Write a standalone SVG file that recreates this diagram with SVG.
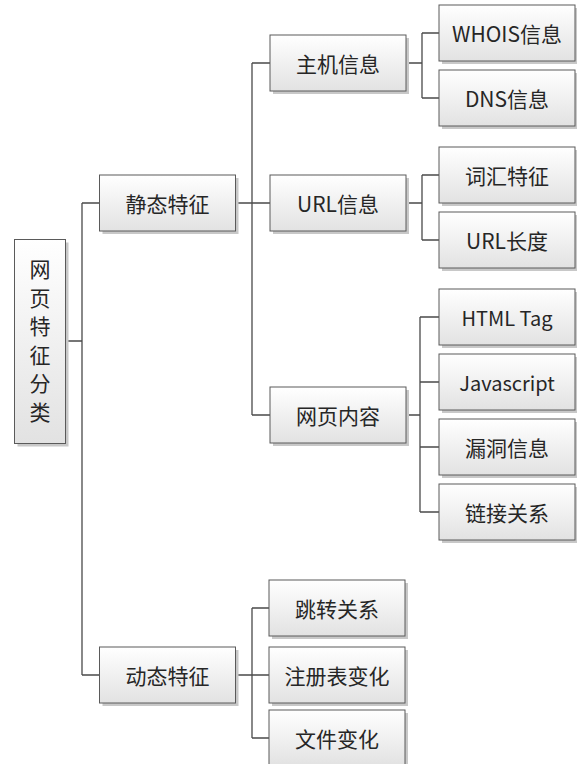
<svg xmlns="http://www.w3.org/2000/svg" width="577" height="764" viewBox="0 0 577 764">
<style>
.box{fill:url(#g);stroke:#5a5a5a;stroke-width:1}
.sh{fill:#c8c8c8}
.t{font-family:"Noto Sans CJK SC","Liberation Sans",sans-serif;font-size:21px;fill:#262626;text-anchor:middle;dominant-baseline:central}
.l{font-size:20px}
.c{fill:none;stroke:#4a4a4a;stroke-width:1.3}
</style>
<defs>
<linearGradient id="g" x1="0" y1="0" x2="0" y2="1">
<stop offset="0" stop-color="#ffffff"/>
<stop offset="1" stop-color="#e2e2e2"/>
</linearGradient>
</defs>
<rect width="577" height="764" fill="#fff"/>
<g id="connectors" class="c">
<path d="M65.5 341H82M82 203V675M82 203H99.5M82 675H99.5"/>
<path d="M235.5 203H252M252 63V415M252 63H270M252 203H270M252 415H270"/>
<path d="M406 63H422M422 33V98M422 33H439M422 98H439"/>
<path d="M406 203H422M422 175V240M422 175H439M422 240H439"/>
<path d="M406 415H420M420 317V512M420 317H439M420 382H439M420 447H439M420 512H439"/>
<path d="M235.5 675H252M252 608V738M252 608H269M252 675H269M252 738H269"/>
</g>
<g id="root">
<rect class="sh" x="17.5" y="242.5" width="51" height="204"/>
<rect class="box" x="14.5" y="239.5" width="51" height="204"/>
<text class="t" x="40" y="268">网</text>
<text class="t" x="40" y="296.5">页</text>
<text class="t" x="40" y="325">特</text>
<text class="t" x="40" y="353.5">征</text>
<text class="t" x="40" y="382">分</text>
<text class="t" x="40" y="410.5">类</text>
</g>
<g id="static">
<rect class="sh" x="102.5" y="178" width="136" height="56"/>
<rect class="box" x="99.5" y="175" width="136" height="56"/>
<text class="t" x="167.5" y="203">静态特征</text>
</g>
<g id="dynamic">
<rect class="sh" x="102.5" y="650" width="136" height="56"/>
<rect class="box" x="99.5" y="647" width="136" height="56"/>
<text class="t" x="167.5" y="675">动态特征</text>
</g>
<g id="host">
<rect class="sh" x="273" y="38" width="136" height="56"/>
<rect class="box" x="270" y="35" width="136" height="56"/>
<text class="t" x="338" y="63">主机信息</text>
</g>
<g id="url">
<rect class="sh" x="273" y="178" width="136" height="56"/>
<rect class="box" x="270" y="175" width="136" height="56"/>
<text class="t" x="338" y="203">URL信息</text>
</g>
<g id="content">
<rect class="sh" x="273" y="390" width="136" height="56"/>
<rect class="box" x="270" y="387" width="136" height="56"/>
<text class="t" x="338" y="415">网页内容</text>
</g>
<g id="whois">
<rect class="sh" x="442" y="8" width="136" height="56"/>
<rect class="box" x="439" y="5" width="136" height="56"/>
<text class="t" x="507" y="33">WHOIS信息</text>
</g>
<g id="dns">
<rect class="sh" x="442" y="73" width="136" height="56"/>
<rect class="box" x="439" y="70" width="136" height="56"/>
<text class="t" x="507" y="98">DNS信息</text>
</g>
<g id="lexical">
<rect class="sh" x="442" y="150" width="136" height="56"/>
<rect class="box" x="439" y="147" width="136" height="56"/>
<text class="t" x="507" y="175">词汇特征</text>
</g>
<g id="urllen">
<rect class="sh" x="442" y="215" width="136" height="56"/>
<rect class="box" x="439" y="212" width="136" height="56"/>
<text class="t" x="507" y="240">URL长度</text>
</g>
<g id="html">
<rect class="sh" x="442" y="292" width="136" height="56"/>
<rect class="box" x="439" y="289" width="136" height="56"/>
<text class="t l" x="507" y="317">HTML Tag</text>
</g>
<g id="js">
<rect class="sh" x="442" y="357" width="136" height="56"/>
<rect class="box" x="439" y="354" width="136" height="56"/>
<text class="t l" x="507" y="382">Javascript</text>
</g>
<g id="vuln">
<rect class="sh" x="442" y="422" width="136" height="56"/>
<rect class="box" x="439" y="419" width="136" height="56"/>
<text class="t" x="507" y="447">漏洞信息</text>
</g>
<g id="links">
<rect class="sh" x="442" y="487" width="136" height="56"/>
<rect class="box" x="439" y="484" width="136" height="56"/>
<text class="t" x="507" y="512">链接关系</text>
</g>
<g id="redirect">
<rect class="sh" x="272" y="583" width="136" height="56"/>
<rect class="box" x="269" y="580" width="136" height="56"/>
<text class="t" x="337" y="608">跳转关系</text>
</g>
<g id="registry">
<rect class="sh" x="272" y="650" width="136" height="56"/>
<rect class="box" x="269" y="647" width="136" height="56"/>
<text class="t" x="337" y="675">注册表变化</text>
</g>
<g id="file">
<rect class="sh" x="272" y="713" width="136" height="56"/>
<rect class="box" x="269" y="710" width="136" height="56"/>
<text class="t" x="337" y="738">文件变化</text>
</g>
</svg>
